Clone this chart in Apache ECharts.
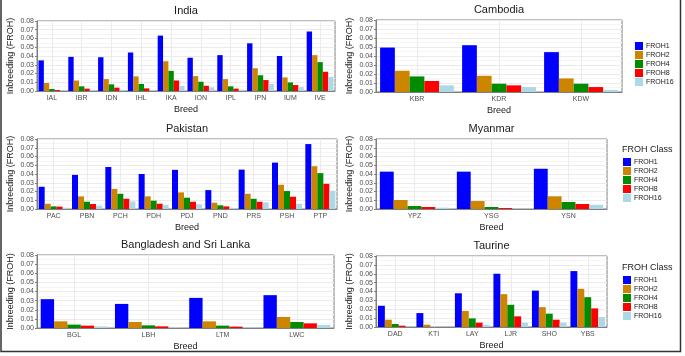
<!DOCTYPE html>
<html>
<head>
<meta charset="utf-8">
<script src="https://cdn.jsdelivr.net/npm/echarts@6/dist/echarts.min.js"></script>
<style>
  html, body { margin: 0; padding: 0; background: #fff; }
  #chart { width: 685px; height: 356px; }
</style>
</head>
<body>
<div id="chart"></div>
<script>
const classNames = ['FROH1', 'FROH2', 'FROH4', 'FROH8', 'FROH16'];
const classColors = ['#0000ff', '#cd8500', '#008b00', '#ff0000', '#add8e6'];

const indiaBreeds = ['IAL', 'IBR', 'IDN', 'IHL', 'IKA', 'ION', 'IPL', 'IPN', 'IUM', 'IVE'];
const indiaFROH = [
    [0.035, 0.039, 0.0386, 0.044, 0.0633, 0.038, 0.041, 0.0545, 0.040, 0.068],
    [0.0091, 0.012, 0.0136, 0.0167, 0.034, 0.017, 0.0136, 0.026, 0.0155, 0.041],
    [0.0023, 0.0053, 0.0076, 0.008, 0.023, 0.0106, 0.0053, 0.018, 0.0098, 0.033],
    [0.0011, 0.0027, 0.0038, 0.003, 0.012, 0.006, 0.0027, 0.0125, 0.0068, 0.022],
    [0.0004, 0.0015, 0.0015, 0.0005, 0.0057, 0.0042, 0.0015, 0.008, 0.0045, 0.0163]
];

const cambodiaBreeds = ['KBR', 'KDR', 'KDW'];
const cambodiaFROH = [
    [0.0494, 0.052, 0.0443],
    [0.0236, 0.018, 0.0151],
    [0.0173, 0.0092, 0.0092],
    [0.0122, 0.0074, 0.0055],
    [0.0074, 0.0055, 0.0022]
];

const pakistanBreeds = ['PAC', 'PBN', 'PCH', 'PDH', 'PDJ', 'PND', 'PRS', 'PSH', 'PTP'];
const pakistanFROH = [
    [0.0254, 0.039, 0.048, 0.040, 0.0447, 0.0216, 0.045, 0.053, 0.0742],
    [0.006, 0.0144, 0.023, 0.0144, 0.019, 0.0072, 0.0174, 0.0277, 0.0489],
    [0.003, 0.0083, 0.0174, 0.0095, 0.0129, 0.0042, 0.0117, 0.0205, 0.041],
    [0.0027, 0.0057, 0.0117, 0.006, 0.0083, 0.003, 0.0083, 0.014, 0.0288],
    [0.0015, 0.0038, 0.0087, 0.0045, 0.0053, 0.001, 0.0076, 0.006, 0.0208]
];

const myanmarBreeds = ['YPZ', 'YSG', 'YSN'];
const myanmarFROH = [
    [0.0427, 0.0427, 0.046],
    [0.0103, 0.0091, 0.0145],
    [0.0034, 0.0023, 0.008],
    [0.0023, 0.0011, 0.0057],
    [0.0015, 0.0004, 0.0046]
];

const bangladeshBreeds = ['BGL', 'LBH', 'LTM', 'LWC'];
const bangladeshFROH = [
    [0.0316, 0.0264, 0.033, 0.036],
    [0.0073, 0.0066, 0.0073, 0.0121],
    [0.0037, 0.0029, 0.0026, 0.0066],
    [0.0026, 0.0018, 0.0015, 0.0051],
    [0.0018, 0.0007, 0.0004, 0.0033]
];

const taurineBreeds = ['DAD', 'KTI', 'LAY', 'LJR', 'SHO', 'YBS'];
const taurineFROH = [
    [0.0239, 0.0157, 0.038, 0.060, 0.041, 0.063],
    [0.0082, 0.0026, 0.018, 0.037, 0.0224, 0.043],
    [0.0034, 0, 0.0097, 0.025, 0.015, 0.0336],
    [0.0015, 0, 0.0049, 0.012, 0.0082, 0.021],
    [0.0004, 0, 0.0026, 0.0049, 0.0049, 0.0112]
];

// panel layout in pixels
const panels = [
    {title: 'India', breeds: indiaBreeds, values: indiaFROH, left: 37, top: 21, width: 298, height: 70},
    {title: 'Cambodia', breeds: cambodiaBreeds, values: cambodiaFROH, left: 376, top: 20, width: 246, height: 72},
    {title: 'Pakistan', breeds: pakistanBreeds, values: pakistanFROH, left: 37, top: 139, width: 300, height: 70},
    {title: 'Myanmar', breeds: myanmarBreeds, values: myanmarFROH, left: 376, top: 139, width: 231, height: 70},
    {title: 'Bangladesh and Sri Lanka', breeds: bangladeshBreeds, values: bangladeshFROH, left: 37, top: 255, width: 297, height: 73},
    {title: 'Taurine', breeds: taurineBreeds, values: taurineFROH, left: 376, top: 256, width: 231, height: 71}
];

const font = 'Liberation Sans, Arial, sans-serif';
const borderColor = '#7f7f7f';

const grid = [], xAxis = [], yAxis = [], series = [], graphic = [];

panels.forEach(function (p, i) {
    grid.push({left: p.left, top: p.top, width: p.width, height: p.height, show: true,
        borderColor: borderColor, borderWidth: 1, backgroundColor: '#fff', containLabel: false});
    xAxis.push({
        type: 'category', gridIndex: i, data: p.breeds,
        name: 'Breed', nameLocation: 'middle', nameGap: 14,
        nameTextStyle: {fontFamily: font, fontSize: 9, color: '#1a1a1a'},
        axisLine: {lineStyle: {color: borderColor}},
        axisTick: {alignWithLabel: true, length: 2, lineStyle: {color: borderColor}},
        axisLabel: {fontFamily: font, fontSize: 7, color: '#4d4d4d', margin: 4},
        splitLine: {show: false}
    });
    yAxis.push({
        type: 'value', gridIndex: i, min: 0, max: 0.08, interval: 0.01,
        name: 'Inbreeding (FROH)', nameLocation: 'middle', nameGap: 22, nameRotate: 90,
        nameTextStyle: {fontFamily: font, fontSize: 9, color: '#1a1a1a'},
        axisLine: {show: true, lineStyle: {color: borderColor}},
        axisTick: {show: true, length: 2, lineStyle: {color: borderColor}},
        axisLabel: {fontFamily: font, fontSize: 7, color: '#4d4d4d', margin: 3,
            formatter: function (v) { return v.toFixed(2); }},
        splitLine: {show: true, lineStyle: {color: '#ebebeb', width: 1}},
        minorTick: {show: false, splitNumber: 2},
        minorSplitLine: {show: true, lineStyle: {color: '#f5f5f5', width: 1}}
    });
    // vertical grid lines through the breed centres, kept under the bars
    series.push({
        type: 'line', xAxisIndex: i, yAxisIndex: i, data: [], z: 1, silent: true,
        markLine: {
            z: 1, symbol: 'none', silent: true, animation: false, label: {show: false},
            lineStyle: {color: '#ebebeb', type: 'solid', width: 1},
            data: p.breeds.map(function (b) { return {xAxis: b}; })
        }
    });
    classNames.forEach(function (name, k) {
        series.push({
            type: 'bar', name: name, xAxisIndex: i, yAxisIndex: i,
            data: p.values[k], barGap: '0%', barCategoryGap: '10%',
            itemStyle: {color: classColors[k]}, silent: true, z: 3
        });
    });
    graphic.push({
        type: 'text', x: p.left + p.width / 2, y: p.top - 10,
        style: {text: p.title, fontFamily: font, fontSize: 11, fill: '#1a1a1a',
            textAlign: 'center', textVerticalAlign: 'middle'}
    });
});

// legend titles
graphic.push({type: 'text', x: 622, y: 150,
    style: {text: 'FROH Class', fontFamily: font, fontSize: 9, fill: '#1a1a1a', textVerticalAlign: 'middle'}});
graphic.push({type: 'text', x: 622, y: 268,
    style: {text: 'FROH Class', fontFamily: font, fontSize: 9, fill: '#1a1a1a', textVerticalAlign: 'middle'}});

// outer frame
graphic.push({type: 'polyline', shape: {points: [[1, 0], [1, 351.5], [680.5, 351.5], [680.5, 0]]},
    style: {stroke: '#333', lineWidth: 1.5, fill: null}});

const legendBase = {
    orient: 'vertical', data: classNames, itemWidth: 8, itemHeight: 8, itemGap: 1,
    icon: 'rect', selectedMode: false,
    textStyle: {fontFamily: font, fontSize: 7, color: '#1a1a1a', padding: [0, 0, 0, -2]}
};

const option = {
    animation: false,
    color: classColors,
    grid: grid,
    xAxis: xAxis,
    yAxis: yAxis,
    series: series,
    graphic: graphic,
    legend: [
        Object.assign({}, legendBase, {left: 630, top: 37}),
        Object.assign({}, legendBase, {left: 618, top: 153}),
        Object.assign({}, legendBase, {left: 618, top: 271})
    ]
};

const myChart = echarts.init(document.getElementById('chart'));
myChart.setOption(option);
</script>
</body>
</html>
